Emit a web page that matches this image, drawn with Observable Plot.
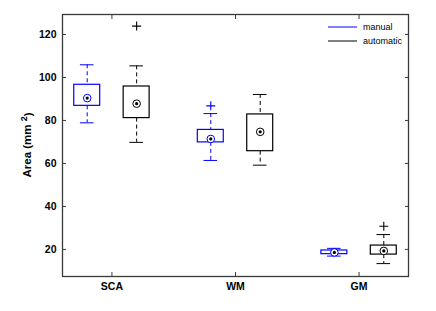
<!DOCTYPE html>
<html>
<head>
<meta charset="utf-8">
<script src="https://cdn.jsdelivr.net/npm/d3@7"></script>
<script src="https://cdn.jsdelivr.net/npm/@observablehq/plot@0.6"></script>
<style>
  html, body { margin: 0; padding: 0; background: #fff; }
  #chart svg { display: block; }
</style>
</head>
<body>
<div id="chart"></div>
<script>
const categories = ["SCA", "WM", "GM"];
const seriesNames = ["manual", "automatic"];
const seriesColors = ["#0000ff", "#000000"];

const manualLow  = [78.9, 61.4, 16.9];
const manualQ1   = [86.8, 69.8, 17.8];
const manualMed  = [90.4, 71.4, 18.6];
const manualQ3   = [96.6, 75.6, 19.5];
const manualHigh = [105.9, 83.2, 20.5];
const manualOutliers = [[], [86.8], []];

const autoLow  = [69.8, 59.2, 13.4];
const autoQ1   = [81.1, 65.7, 17.6];
const autoMed  = [87.8, 74.7, 19.3];
const autoQ3   = [95.8, 82.8, 21.8];
const autoHigh = [105.4, 92.1, 26.9];
const autoOutliers = [[123.9], [], [30.8]];

const yTicks = [20, 40, 60, 80, 100, 120];

const offset = 0.2, halfBox = 0.105, halfCap = 0.055;

const stats = [];
const outliers = [];
const sets = [
  {name: seriesNames[0], color: seriesColors[0], off: -offset, low: manualLow, q1: manualQ1, med: manualMed, q3: manualQ3, high: manualHigh, out: manualOutliers},
  {name: seriesNames[1], color: seriesColors[1], off: offset, low: autoLow, q1: autoQ1, med: autoMed, q3: autoQ3, high: autoHigh, out: autoOutliers}
];
for (const s of sets) {
  categories.forEach((c, i) => {
    const x = i + 1 + s.off;
    stats.push({cat: c, series: s.name, color: s.color, x, low: s.low[i], q1: s.q1[i], med: s.med[i], q3: s.q3[i], high: s.high[i]});
    for (const v of s.out[i]) outliers.push({x, y: v, color: s.color});
  });
}

const axisColor = "#3a3a3a";
const font = "Liberation Sans, Arial, sans-serif";

function legend(index, scales, values, dims) {
  const g = d3.create("svg:g");
  const right = dims.width - dims.marginRight;
  const top = dims.marginTop;
  sets.forEach((s, i) => {
    const y = top + 13 + i * 14;
    g.append("line").attr("x1", right - 80).attr("x2", right - 51).attr("y1", y).attr("y2", y)
      .attr("stroke", s.color).attr("stroke-width", 1);
    g.append("text").attr("x", right - 45).attr("y", y).attr("dy", "0.32em")
      .attr("text-anchor", "start")
      .attr("font-size", 9).attr("font-family", font)
      .attr("fill", "#000").text(s.name);
  });
  return g.node();
}

function yLabel(index, scales, values, dims) {
  const cy = dims.marginTop + (dims.height - dims.marginTop - dims.marginBottom) / 2;
  const t = d3.create("svg:text")
    .attr("transform", `translate(27,${cy}) rotate(-90)`)
    .attr("text-anchor", "middle")
    .attr("dy", "0.35em")
    .attr("font-size", 11.5).attr("font-weight", "bold").attr("font-family", font)
    .attr("fill", "#000");
  t.append("tspan").text("Area (mm ");
  t.append("tspan").attr("dy", "-0.45em").attr("font-size", 9).text("2");
  t.append("tspan").attr("dy", "0.45em").text(")");
  return t.node();
}

const chart = Plot.plot({
  width: 436,
  height: 311,
  marginLeft: 62,
  marginRight: 28,
  marginTop: 14,
  marginBottom: 35,
  style: {fontFamily: font, background: "#fff"},
  x: {domain: [0.6, 3.4], ticks: [1, 2, 3], tickFormat: d => categories[d - 1]},
  y: {domain: [7.4, 129.3], ticks: yTicks},
  marks: [
    Plot.frame({stroke: axisColor, strokeWidth: 1.3}),
    Plot.axisY({anchor: "left", ticks: yTicks, tickSize: -4, tickPadding: 10, label: null, fontSize: 10.5, fontWeight: "bold", fill: "#000", stroke: axisColor}),
    Plot.axisY({anchor: "right", ticks: yTicks, tickSize: -4, tickFormat: () => "", label: null, stroke: axisColor}),
    Plot.axisX({anchor: "bottom", ticks: [1, 2, 3], tickSize: -4, tickPadding: 10, tickFormat: d => categories[d - 1], label: null, fontSize: 10.5, fontWeight: "bold", fill: "#000", stroke: axisColor}),
    Plot.axisX({anchor: "top", ticks: [1, 2, 3], tickSize: -4, tickFormat: () => "", label: null, stroke: axisColor}),
    yLabel,
    // whiskers (dashed)
    Plot.ruleX(stats, {x: "x", y1: "high", y2: "q3", stroke: "color", strokeDasharray: "4,3"}),
    Plot.ruleX(stats, {x: "x", y1: "q1", y2: "low", stroke: "color", strokeDasharray: "4,3"}),
    // caps
    Plot.ruleY(stats, {y: "high", x1: d => d.x - halfCap, x2: d => d.x + halfCap, stroke: "color"}),
    Plot.ruleY(stats, {y: "low", x1: d => d.x - halfCap, x2: d => d.x + halfCap, stroke: "color"}),
    // boxes
    Plot.rect(stats, {x1: d => d.x - halfBox, x2: d => d.x + halfBox, y1: "q1", y2: "q3", stroke: "color", fill: "none", strokeWidth: 1.2}),
    // median target
    Plot.dot(stats, {x: "x", y: "med", r: 3.8, stroke: "color", fill: "white", strokeWidth: 1}),
    Plot.dot(stats, {x: "x", y: "med", r: 1.6, fill: "#000"}),
    // outliers
    Plot.dot(outliers, {x: "x", y: "y", symbol: "plus", r: 3, stroke: "color", strokeWidth: 1.1}),
    legend
  ]
});
document.getElementById("chart").appendChild(chart);
</script>
</body>
</html>
